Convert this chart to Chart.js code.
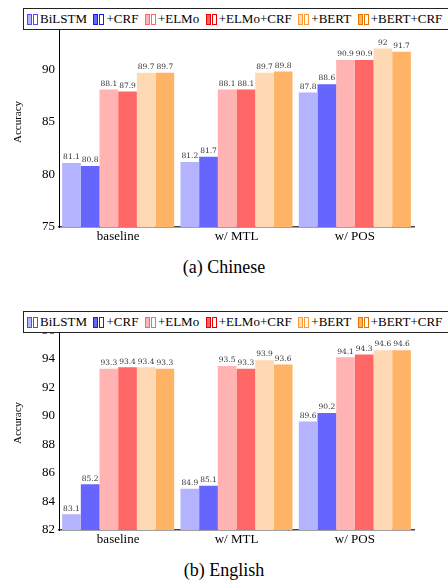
<!DOCTYPE html>
<html><head><meta charset="utf-8">
<script src="https://cdn.jsdelivr.net/npm/chart.js@4.4.1/dist/chart.umd.min.js"></script>
<style>
body{margin:0;background:#fff;width:448px;height:580px;overflow:hidden;position:relative;font-family:"Liberation Serif","Times New Roman",Times,"DejaVu Serif",serif;}
canvas{position:absolute;left:0;}
.legend{position:absolute;left:23px;height:20px;border:1px solid #222;background:#fff;display:flex;align-items:center;white-space:nowrap;font-size:13px;padding-left:3px;width:440px;z-index:2;color:#000;}
.item{display:flex;align-items:center;margin-right:6.5px;}
.ic{display:inline-block;width:3px;height:9px;border:1px solid;margin-right:1px;}
.ic2{margin-right:2px;background:#fff;}
.caption{position:absolute;left:0;width:448px;text-align:center;font-size:18px;line-height:20px;color:#000;}
</style></head>
<body>
<canvas id="c1" width="448" height="245" style="top:0px"></canvas>
<div class="legend" id="lg1" style="top:8px"></div>
<div class="caption" style="top:257px">(a) Chinese</div>
<canvas id="c2" width="448" height="248" style="top:300px"></canvas>
<div class="legend" id="lg2" style="top:311px"></div>
<div class="caption" style="top:560px">(b) English</div>
<script>
// ---- data ----
const categories = ['baseline', 'w/ MTL', 'w/ POS'];
const seriesNames = ['BiLSTM', '+CRF', '+ELMo', '+ELMo+CRF', '+BERT', '+BERT+CRF'];

const zhBiLSTM   = [81.1, 81.2, 87.8];
const zhCRF      = [80.8, 81.7, 88.6];
const zhELMo     = [88.1, 88.1, 90.9];
const zhELMoCRF  = [87.9, 88.1, 90.9];
const zhBERT     = [89.7, 89.7, 92];
const zhBERTCRF  = [89.7, 89.8, 91.7];

const enBiLSTM   = [83.1, 84.9, 89.6];
const enCRF      = [85.2, 85.1, 90.2];
const enELMo     = [93.3, 93.5, 94.1];
const enELMoCRF  = [93.4, 93.3, 94.3];
const enBERT     = [93.4, 93.9, 94.6];
const enBERTCRF  = [93.3, 93.6, 94.6];

const zhTicks = [75, 80, 85, 90, 95];
const enTicks = [82, 84, 86, 88, 90, 92, 94, 96];

// ---- styles ----
const SERIF = '"Liberation Serif", "Times New Roman", Times, serif';
const fillColors = ['#b3b3ff', '#6666ff', '#ffb3b3', '#ff6666', '#ffd9b3', '#ffb366'];
const edgeColors = ['#4d4dff', '#1a1aff', '#ff6666', '#e60000', '#ff9933', '#e67300'];

function buildLegend(id) {
  const el = document.getElementById(id);
  seriesNames.forEach((n, i) => {
    const it = document.createElement('span');
    it.className = 'item';
    const a = document.createElement('span');
    a.className = 'ic'; a.style.background = fillColors[i]; a.style.borderColor = edgeColors[i];
    const b = document.createElement('span');
    b.className = 'ic ic2'; b.style.borderColor = edgeColors[i];
    const t = document.createElement('span'); t.textContent = n;
    it.appendChild(a); it.appendChild(b); it.appendChild(t);
    el.appendChild(it);
  });
}
buildLegend('lg1'); buildLegend('lg2');

const valueLabels = {
  id: 'valueLabels',
  afterDraw(chart) {
    const ctx = chart.ctx;
    ctx.save();
    ctx.font = '7.5px "DejaVu Serif", serif';
    ctx.fillStyle = '#333';
    ctx.textAlign = 'center';
    ctx.textBaseline = 'bottom';
    chart.data.datasets.forEach((ds, di) => {
      chart.getDatasetMeta(di).data.forEach((bar, i) => {
        ctx.fillText(String(ds.data[i]), bar.x, bar.y - 2);
      });
    });
    ctx.restore();
  }
};

function makeChart(id, series, ticks, max, topPad) {
  const min = ticks[0];
  return new Chart(document.getElementById(id), {
    type: 'bar',
    data: {
      labels: categories,
      datasets: series.map((d, i) => ({
        label: seriesNames[i], data: d,
        backgroundColor: fillColors[i], borderWidth: 0,
        categoryPercentage: 0.947, barPercentage: 1.0
      }))
    },
    options: {
      responsive: false, animation: false, devicePixelRatio: 1,
      layout: { padding: { left: 0, right: 34, top: topPad, bottom: 0 } },
      plugins: { legend: { display: false }, tooltip: { enabled: false } },
      scales: {
        x: {
          grid: { display: false, drawTicks: false },
          border: { display: true, color: '#444', width: 1.5 },
          ticks: { padding: 2, color: '#000', font: { family: SERIF, size: 13 } },
          afterFit(s) { s.height = 18; }
        },
        y: {
          min: min, max: max, z: 1,
          afterBuildTicks(s) { s.ticks = ticks.map(v => ({ value: v })); },
          grid: {
            drawTicks: false, lineWidth: 1,
            color: c => (c.tick && c.tick.value === min) ? 'rgba(0,0,0,0)' : '#ffffff'
          },
          border: { display: true, color: '#000', width: 1 },
          ticks: { padding: 4, color: '#000', font: { family: SERIF, size: 13 } },
          title: { display: true, text: 'Accuracy', color: '#000',
                   font: { family: SERIF, size: 11 }, padding: { top: 12, bottom: 0 } },
          afterFit(s) { s.width = 59; }
        }
      }
    },
    plugins: [valueLabels]
  });
}

document.fonts.load('13px "Liberation Serif"').then(() => {
  makeChart('c1', [zhBiLSTM, zhCRF, zhELMo, zhELMoCRF, zhBERT, zhBERTCRF], zhTicks, 95, 17);
  makeChart('c2', [enBiLSTM, enCRF, enELMo, enELMoCRF, enBERT, enBERTCRF], enTicks, 97, 16);
});
</script>
</body></html>
